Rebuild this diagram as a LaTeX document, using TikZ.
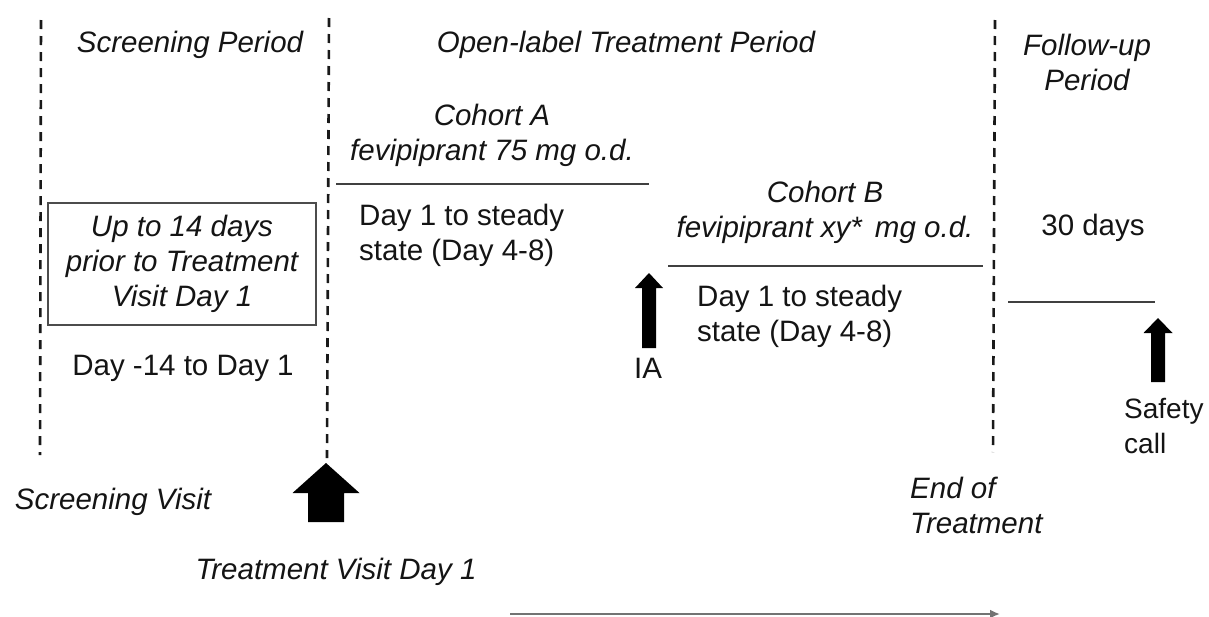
\documentclass[tikz,border=0pt]{standalone}
\usepackage{fontspec}
\setmainfont{Liberation Sans}
\usetikzlibrary{arrows.meta}
\newcommand\fatarrow[7]{% name, x, ytip, yheadbase, ybottom, headhalf, shafthalf
  \fill[black] (#2,#3) -- (#2+#6,#4) -- (#2+#7,#4) -- (#2+#7,#5) -- (#2-#7,#5) -- (#2-#7,#4) -- (#2-#6,#4) -- cycle;
  \coordinate (#1) at (#2,#3);}
\begin{document}
\begin{tikzpicture}[x=1pt,y=-1pt,
  tx/.style={font=\fontsize{29.5}{35}\selectfont, align=center, inner sep=0pt, text=black!92},
  itx/.style={font=\fontsize{29.5}{35}\selectfont\itshape, align=center, inner sep=0pt, text=black!92},
  ltx/.style={tx, align=left, anchor=west},
  litx/.style={itx, align=left, anchor=west},
  divider/.style={draw=black!90, line width=2.6pt, dash pattern=on 9pt off 7pt},
  rule/.style={draw=black!75, line width=1.4pt},
  boxed/.style={draw=black!70, line width=1.4pt}]
\useasboundingbox (0,0) rectangle (1209,616);
% period dividers
\coordinate (d1t) at (41,20);  \coordinate (d1b) at (40,455);
\coordinate (d2t) at (329,18); \coordinate (d2b) at (327,458);
\coordinate (d3t) at (995,20); \coordinate (d3b) at (993,452);
\draw[divider] (d1t) -- (d1b);
\draw[divider] (d2t) -- (d2b);
\draw[divider] (d3t) -- (d3b);
% headings
\node[itx] (scrP) at (190,45) {Screening Period};
\node[itx] (olP) at (626,45) {Open-label Treatment Period};
\node[itx] (fuP) at (1087,62) {Follow-up\\Period};
% screening
\draw[boxed] (48,203) rectangle (316,325);
\node[itx] (scrbox) at (182,264) {Up to 14 days\\prior to Treatment\\Visit Day 1};
\node[tx] (scrdays) at (183,368) {Day -14 to Day 1};
% cohort A
\node[itx] (cohA) at (492,135) {Cohort A\\fevipiprant 75 mg o.d.};
\coordinate (lAl) at (336,184); \coordinate (lAr) at (649,184);
\draw[rule] (lAl) -- (lAr);
\node[ltx] (dayA) at (359,235) {Day 1 to steady\\state (Day 4-8)};
% cohort B
\node[itx] (cohB) at (825,212) {Cohort B\\fevipiprant xy*\, mg o.d.};
\coordinate (lBl) at (668,266); \coordinate (lBr) at (983,266);
\draw[rule] (lBl) -- (lBr);
\node[ltx] (dayB) at (697,316) {Day 1 to steady\\state (Day 4-8)};
% IA
\fatarrow{iaarrow}{649}{273}{288}{348}{14}{7}
\node[tx] (ia) at (648,368) {IA};
% follow-up
\node[tx] (fudays) at (1093,228) {30 days};
\coordinate (lFl) at (1008,302); \coordinate (lFr) at (1155,302);
\draw[rule] (lFl) -- (lFr);
\fatarrow{safearrow}{1158}{318}{333}{382}{14.5}{7}
\node[ltx, font=\fontsize{28}{35}\selectfont] (safety) at (1124,426) {Safety\\call};
% bottom labels
\fatarrow{tvarrow}{326}{463}{493}{522}{33.5}{18}
\node[itx] (scrV) at (113,502) {Screening Visit};
\node[litx] (eot) at (910,505) {End of\\Treatment};
\node[itx] (tv) at (336,572) {Treatment Visit Day 1};
% time arrow
\coordinate (ta) at (510,614); \coordinate (tb) at (1000,614);
\draw[black!55, line width=2pt, -{Latex[length=10pt,width=9pt]}] (ta) -- (tb);
\end{tikzpicture}
\end{document}
